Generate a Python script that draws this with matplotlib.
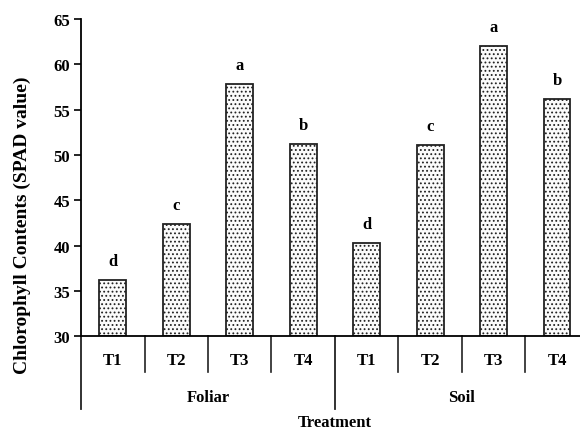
import matplotlib.pyplot as plt

plt.rcParams['font.family'] = ['Liberation Serif', 'DejaVu Serif']
plt.rcParams['font.weight'] = 'bold'
plt.rcParams['hatch.color'] = '#cccccc'
plt.rcParams['hatch.linewidth'] = 0.8

groups = ['Foliar', 'Soil']
treatments = ['T1', 'T2', 'T3', 'T4', 'T1', 'T2', 'T3', 'T4']
values = [36.2, 42.4, 57.8, 51.2, 40.3, 51.1, 62.0, 56.2]
letters = ['d', 'c', 'a', 'b', 'd', 'c', 'a', 'b']

fig = plt.figure(figsize=(5.8, 4.31), dpi=100)
ax = fig.add_axes([0.1397, 0.2174, 0.8603, 0.736])

x = list(range(len(values)))
ax.bar(x, [v - 30 for v in values], bottom=30, width=0.42,
       color='#fbfbfb', edgecolor='#222222', linewidth=1.3, hatch='....')

for xi, v, l in zip(x, values, letters):
    ax.text(xi, v + 1.2, l, ha='center', va='bottom', fontsize=12, fontweight='bold')

ax.set_ylim(30, 65)
ax.set_xlim(-0.5, 7.36)
ax.set_yticks(range(30, 66, 5))
ax.tick_params(axis='y', direction='out', length=5, width=1.2, labelsize=12, pad=3)
ax.set_xticks(x)
ax.set_xticklabels(treatments, fontsize=12, fontweight='bold')
ax.tick_params(axis='x', length=0, pad=11)
for sp in ['top', 'right']:
    ax.spines[sp].set_visible(False)
ax.spines['left'].set_linewidth(1.3)
ax.spines['bottom'].set_linewidth(1.3)

trans = ax.get_xaxis_transform()
for s in [0.5, 1.5, 2.5, 4.5, 5.5, 6.5]:
    ax.plot([s, s], [0, -0.113], color='#222222', lw=1.2, transform=trans, clip_on=False)
for s in [-0.5, 3.5]:
    ax.plot([s, s], [0, -0.23], color='#222222', lw=1.3, transform=trans, clip_on=False)

ax.text(1.5, -0.19, groups[0], transform=trans, ha='center', va='center', fontsize=12, fontweight='bold')
ax.text(5.5, -0.19, groups[1], transform=trans, ha='center', va='center', fontsize=12, fontweight='bold')
ax.text(3.5, -0.27, 'Treatment', transform=trans, ha='center', va='center', fontsize=12, fontweight='bold')

ax.set_ylabel('Chlorophyll Contents (SPAD value)', fontsize=14, fontweight='bold')
ax.yaxis.set_label_coords(-0.1, 0.354)

fig.savefig('out.png', dpi=100)
